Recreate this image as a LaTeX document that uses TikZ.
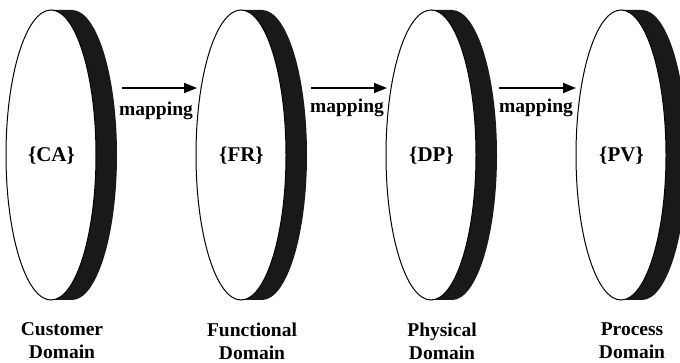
\documentclass[tikz,border=0pt]{standalone}
\usepackage{fontspec}
\setmainfont{Liberation Serif}
\usetikzlibrary{arrows.meta}
\begin{document}
\begin{tikzpicture}[x=1pt,y=-1pt,
  rim/.style={fill=black!90},
  face/.style={draw=black,line width=1pt,fill=white},
  lbl/.style={font=\fontsize{19.5}{23}\selectfont\bfseries,inner sep=0pt},
  set/.style={font=\fontsize{21}{23}\selectfont\bfseries,inner sep=0pt},
  dom/.style={font=\fontsize{19.5}{23}\selectfont\bfseries,align=center,inner sep=0pt},
  maparrow/.style={line width=1.6pt,-{Triangle[length=13pt,width=10pt]}}]
\useasboundingbox (0,0) rectangle (680,363);
\foreach \cx/\t/\a/\b [count=\i] in {51/CA/Customer/Domain,241/FR/Functional/Domain,431/DP/Physical/Domain,621/PV/Process/Domain}{
  \fill[rim] (\cx,10) -- ({\cx+21},10) arc[start angle=-90,end angle=90,x radius=45,y radius=145] -- (\cx,300) -- cycle;
  \draw[face] (\cx,155) ellipse[x radius=45,y radius=145];
  \node[set] (t\i) at ({\cx+0.5},156) {\{\t\}};
  \node[dom] (d\i) at ({\cx+11},341) {\a\\\b};
}
\coordinate (s1) at (122,88); \coordinate (e1) at (197,88);
\coordinate (s2) at (311,88); \coordinate (e2) at (387,88);
\coordinate (s3) at (499,88); \coordinate (e3) at (576,88);
\draw[maparrow] (s1) -- (e1);
\draw[maparrow] (s2) -- (e2);
\draw[maparrow] (s3) -- (e3);
\node[lbl] (m1) at (156,111) {mapping};
\node[lbl] (m2) at (347,108) {mapping};
\node[lbl] (m3) at (536,108) {mapping};
\end{tikzpicture}
\end{document}
